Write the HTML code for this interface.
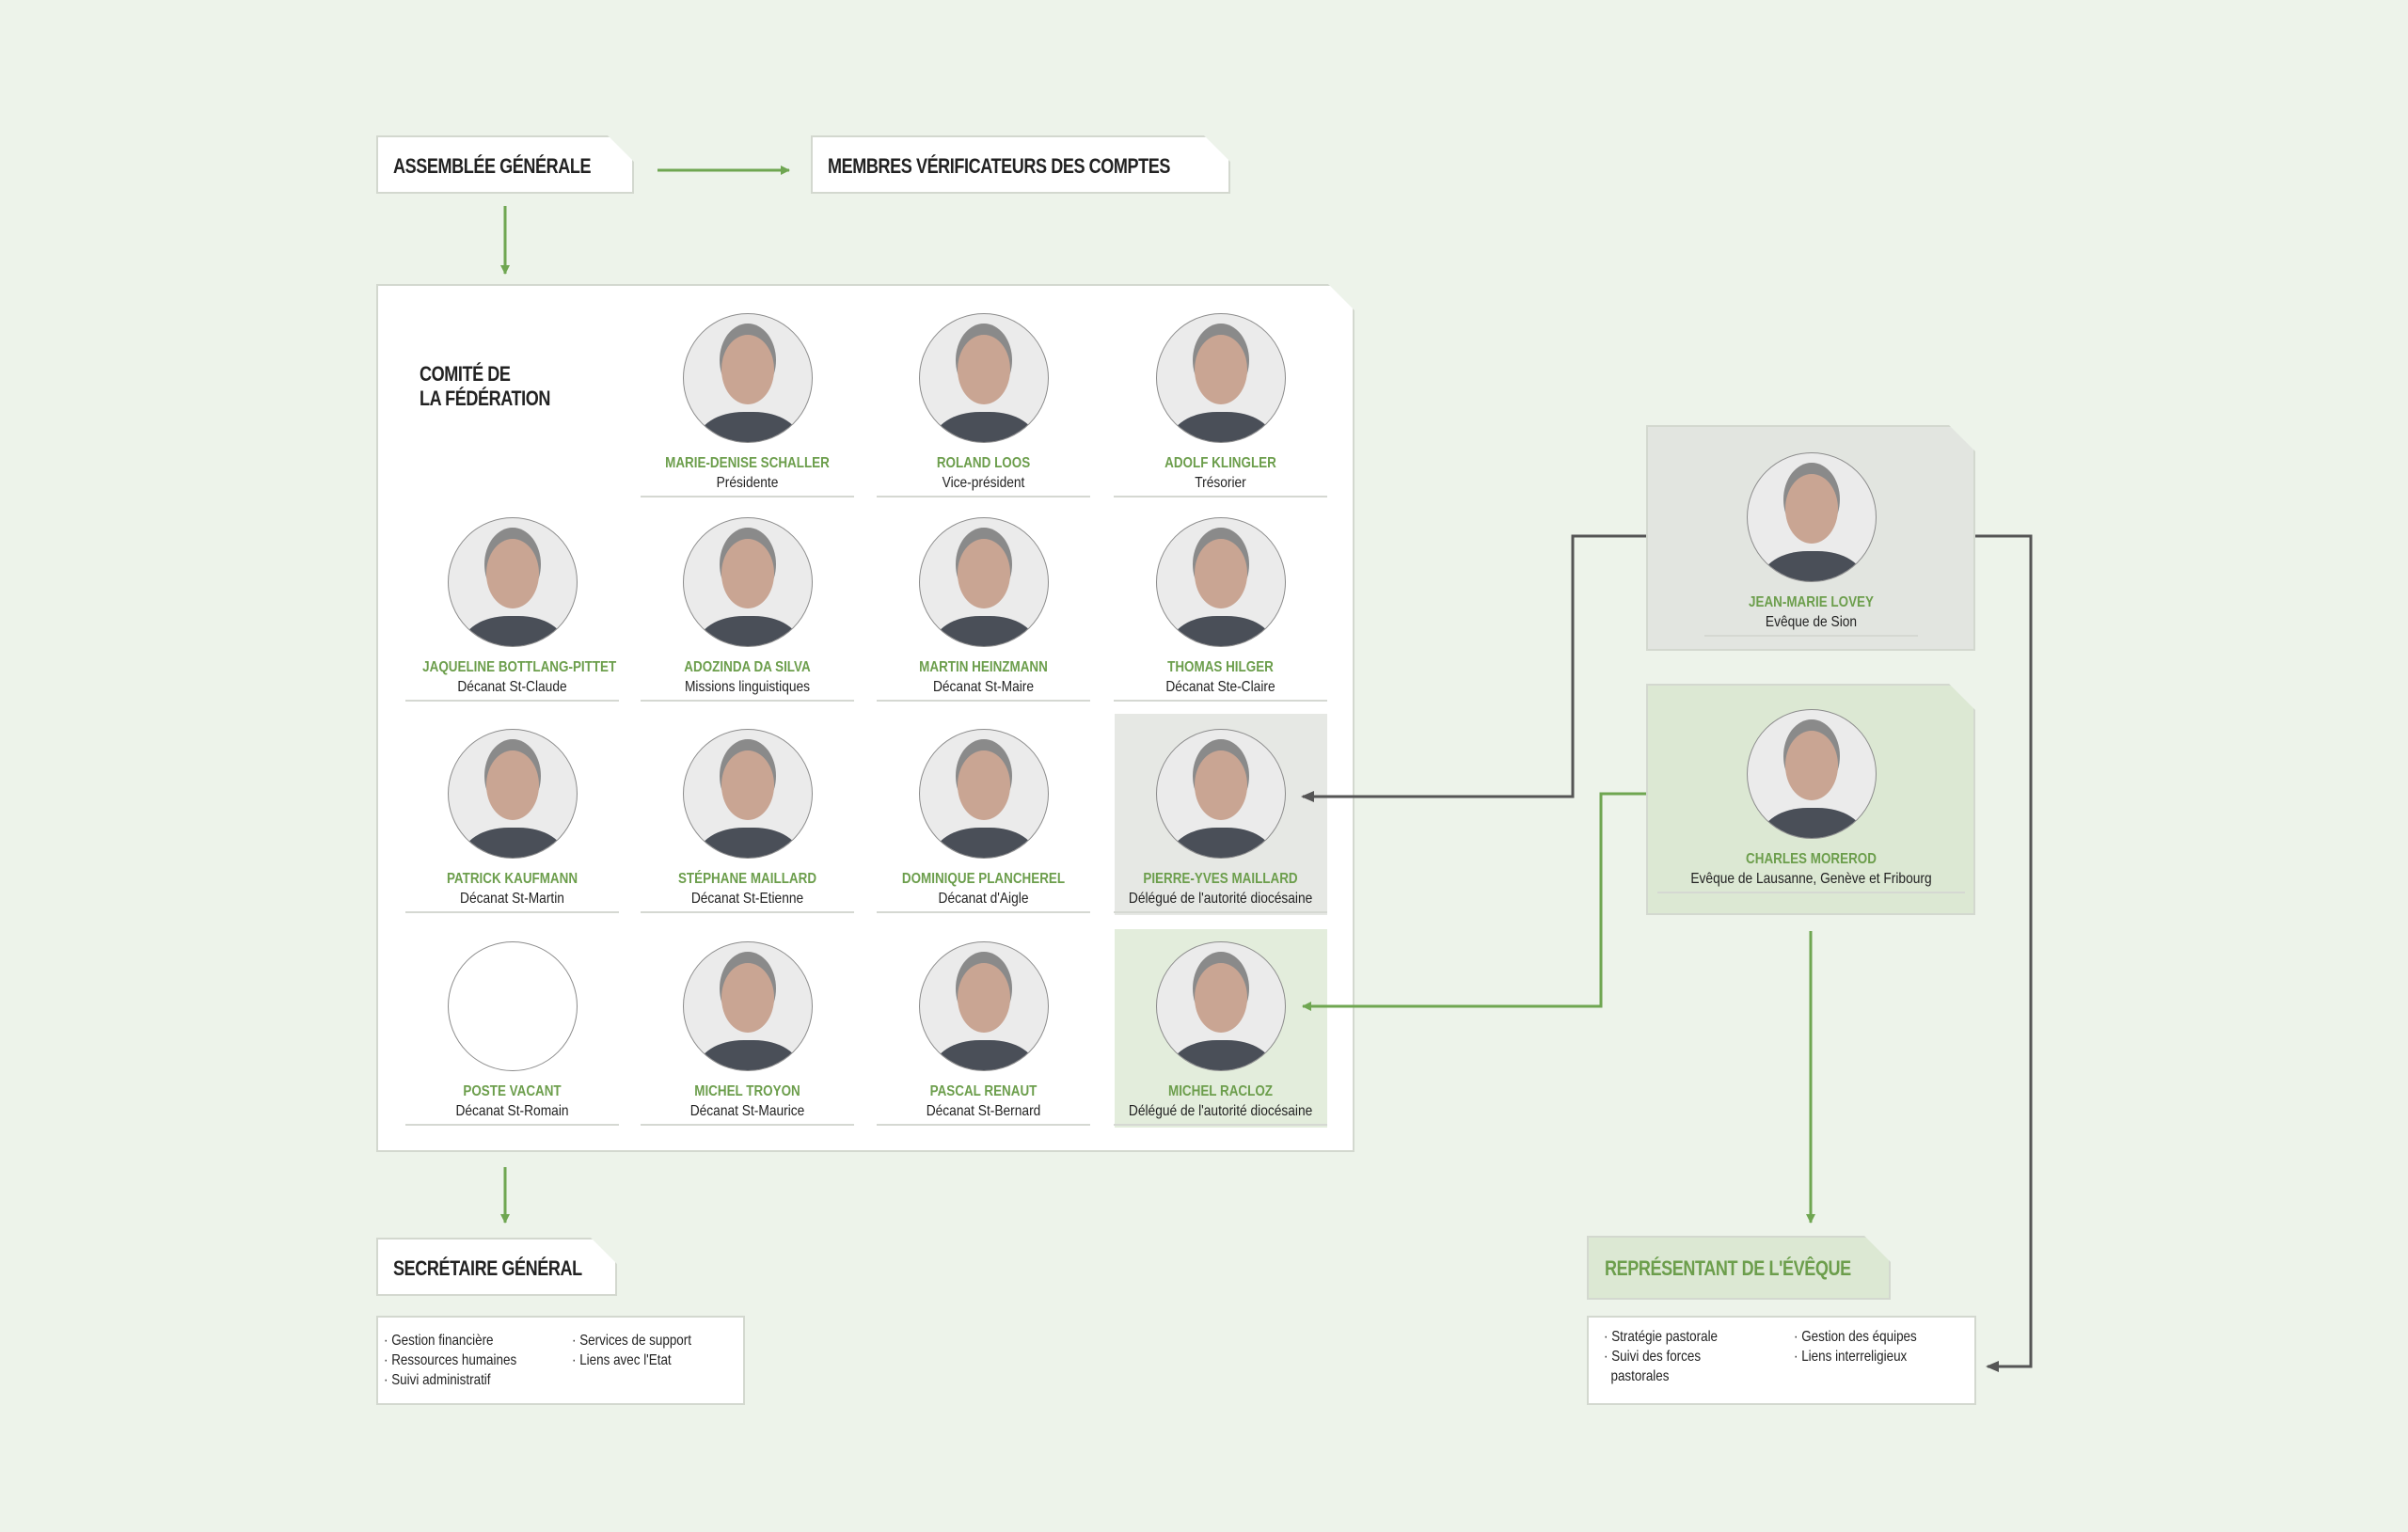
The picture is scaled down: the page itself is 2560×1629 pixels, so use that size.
<!DOCTYPE html>
<html><head><meta charset="utf-8"><style>
*{margin:0;padding:0;box-sizing:border-box}
body{width:2560px;height:1629px;background:#edf3ea;position:relative;overflow:hidden;font-family:"Liberation Sans Narrow","Liberation Sans",sans-serif;color:#222}
.box{position:absolute;background:#fff;border:2px solid #d3d8cf}
.cut{clip-path:polygon(0 0,calc(100% - 28px) 0,100% 28px,100% 100%,0 100%)}
.ttl{position:absolute;font-weight:bold;font-size:22px;letter-spacing:-0.5px;transform:scaleX(0.82);transform-origin:left center;white-space:nowrap}
.p{position:absolute;width:227px;text-align:center}
.ph{width:138px;height:138px;margin:0 auto;border-radius:50%;overflow:hidden;background:#ebebeb;border:1.5px solid #8c8c8c;position:relative}
.ph::before{content:"";position:absolute;left:40px;top:22px;width:56px;height:74px;border-radius:50%;background:#c9a593;box-shadow:0 -10px 0 2px #8a8a8a}
.ph::after{content:"";position:absolute;left:14px;top:104px;width:110px;height:70px;border-radius:45% 45% 0 0;background:#4a4f58}
.ph.v::before,.ph.v::after{display:none}
.ph.v{background:#fff}
.n{margin-top:12px;font-size:16px;font-weight:bold;color:#6c9e4c;line-height:20px;white-space:nowrap;transform:scaleX(0.84)}
.r{font-size:16px;line-height:21px;white-space:nowrap;transform:scaleX(0.86)}
.l{height:2px;background:#d5d8d2;margin-top:3px}
.li{position:absolute;font-size:16px;line-height:21px;transform:scaleX(0.84);transform-origin:left top;white-space:nowrap}
</style></head><body>

<div class="box cut" style="left:400px;top:144px;width:274px;height:62px"></div>
<div class="ttl" style="left:418px;top:164px">ASSEMBLÉE GÉNÉRALE</div>
<div class="box cut" style="left:862px;top:144px;width:446px;height:62px"></div>
<div class="ttl" style="left:880px;top:164px">MEMBRES VÉRIFICATEURS DES COMPTES</div>

<div class="box cut" style="left:400px;top:302px;width:1040px;height:923px"></div>
<div class="ttl" style="left:446px;top:385px;line-height:26px">COMITÉ DE<br>LA FÉDÉRATION</div>

<div style="position:absolute;left:1185px;top:759px;width:226px;height:214px;background:#e6e8e4"></div>
<div style="position:absolute;left:1185px;top:988px;width:226px;height:211px;background:#e3eddc"></div>

<div class="box cut" style="left:1750px;top:452px;width:350px;height:240px;background:#e2e5e0"></div>
<div class="box cut" style="left:1750px;top:727px;width:350px;height:246px;background:#dce8d3"></div>

<div class="box cut" style="left:400px;top:1316px;width:256px;height:62px"></div>
<div class="ttl" style="left:418px;top:1336px">SECRÉTAIRE GÉNÉRAL</div>
<div class="box" style="left:400px;top:1399px;width:392px;height:95px"></div>
<div class="li" style="left:408px;top:1415px">· Gestion financière<br>· Ressources humaines<br>· Suivi administratif</div>
<div class="li" style="left:608px;top:1415px">· Services de support<br>· Liens avec l'Etat</div>

<div class="box cut" style="left:1687px;top:1314px;width:323px;height:68px;background:#dce8d3"></div>
<div class="ttl" style="left:1706px;top:1336px;color:#6c9e4c">REPRÉSENTANT DE L'ÉVÊQUE</div>
<div class="box" style="left:1687px;top:1399px;width:414px;height:95px"></div>
<div class="li" style="left:1705px;top:1411px">· Stratégie pastorale<br>· Suivi des forces<br>&nbsp;&nbsp;pastorales</div>
<div class="li" style="left:1907px;top:1411px">· Gestion des équipes<br>· Liens interreligieux</div>

<div class="p" style="left:681px;top:333px"><div class="ph"></div><div class="n">MARIE-DENISE SCHALLER</div><div class="r">Présidente</div><div class="l"></div></div>
<div class="p" style="left:932px;top:333px"><div class="ph"></div><div class="n">ROLAND LOOS</div><div class="r">Vice-président</div><div class="l"></div></div>
<div class="p" style="left:1184px;top:333px"><div class="ph"></div><div class="n">ADOLF KLINGLER</div><div class="r">Trésorier</div><div class="l"></div></div>
<div class="p" style="left:431px;top:550px"><div class="ph"></div><div class="n">JAQUELINE BOTTLANG-PITTET</div><div class="r">Décanat St-Claude</div><div class="l"></div></div>
<div class="p" style="left:681px;top:550px"><div class="ph"></div><div class="n">ADOZINDA DA SILVA</div><div class="r">Missions linguistiques</div><div class="l"></div></div>
<div class="p" style="left:932px;top:550px"><div class="ph"></div><div class="n">MARTIN HEINZMANN</div><div class="r">Décanat St-Maire</div><div class="l"></div></div>
<div class="p" style="left:1184px;top:550px"><div class="ph"></div><div class="n">THOMAS HILGER</div><div class="r">Décanat Ste-Claire</div><div class="l"></div></div>
<div class="p" style="left:431px;top:775px"><div class="ph"></div><div class="n">PATRICK KAUFMANN</div><div class="r">Décanat St-Martin</div><div class="l"></div></div>
<div class="p" style="left:681px;top:775px"><div class="ph"></div><div class="n">STÉPHANE MAILLARD</div><div class="r">Décanat St-Etienne</div><div class="l"></div></div>
<div class="p" style="left:932px;top:775px"><div class="ph"></div><div class="n">DOMINIQUE PLANCHEREL</div><div class="r">Décanat d'Aigle</div><div class="l"></div></div>
<div class="p" style="left:1184px;top:775px"><div class="ph"></div><div class="n">PIERRE-YVES MAILLARD</div><div class="r">Délégué de l'autorité diocésaine</div><div class="l"></div></div>
<div class="p" style="left:431px;top:1001px"><div class="ph v"></div><div class="n">POSTE VACANT</div><div class="r">Décanat St-Romain</div><div class="l"></div></div>
<div class="p" style="left:681px;top:1001px"><div class="ph"></div><div class="n">MICHEL TROYON</div><div class="r">Décanat St-Maurice</div><div class="l"></div></div>
<div class="p" style="left:932px;top:1001px"><div class="ph"></div><div class="n">PASCAL RENAUT</div><div class="r">Décanat St-Bernard</div><div class="l"></div></div>
<div class="p" style="left:1184px;top:1001px"><div class="ph"></div><div class="n">MICHEL RACLOZ</div><div class="r">Délégué de l'autorité diocésaine</div><div class="l"></div></div>
<div class="p" style="left:1812px;top:481px"><div class="ph"></div><div class="n">JEAN-MARIE LOVEY</div><div class="r">Evêque de Sion</div><div class="l"></div></div>
<div class="p" style="left:1762px;top:754px;width:327px"><div class="ph"></div><div class="n">CHARLES MOREROD</div><div class="r">Evêque de Lausanne, Genève et Fribourg</div><div class="l"></div></div>

<svg width="2560" height="1629" style="position:absolute;left:0;top:0">
<defs>
<marker id="ag" markerWidth="10" markerHeight="10" refX="9" refY="5" orient="auto" markerUnits="userSpaceOnUse"><path d="M0,0 L10,5 L0,10 z" fill="#6fa651"/></marker>
<marker id="ad" markerWidth="14" markerHeight="12" refX="12" refY="6" orient="auto" markerUnits="userSpaceOnUse"><path d="M0,0 L14,6 L0,12 z" fill="#555"/></marker>
</defs>
<g fill="none" stroke-width="3">
<line x1="699" y1="181" x2="839" y2="181" stroke="#6fa651" marker-end="url(#ag)"/>
<line x1="537" y1="219" x2="537" y2="291" stroke="#6fa651" marker-end="url(#ag)"/>
<line x1="537" y1="1241" x2="537" y2="1300" stroke="#6fa651" marker-end="url(#ag)"/>
<line x1="1925" y1="990" x2="1925" y2="1300" stroke="#6fa651" marker-end="url(#ag)"/>
<polyline points="1750,570 1672,570 1672,847 1385,847" stroke="#555" marker-end="url(#ad)"/>
<polyline points="1750,844 1702,844 1702,1070 1385,1070" stroke="#6fa651" marker-end="url(#ag)"/>
<polyline points="2100,570 2159,570 2159,1453 2113,1453" stroke="#555" marker-end="url(#ad)"/>
</g>
</svg>
</body></html>
